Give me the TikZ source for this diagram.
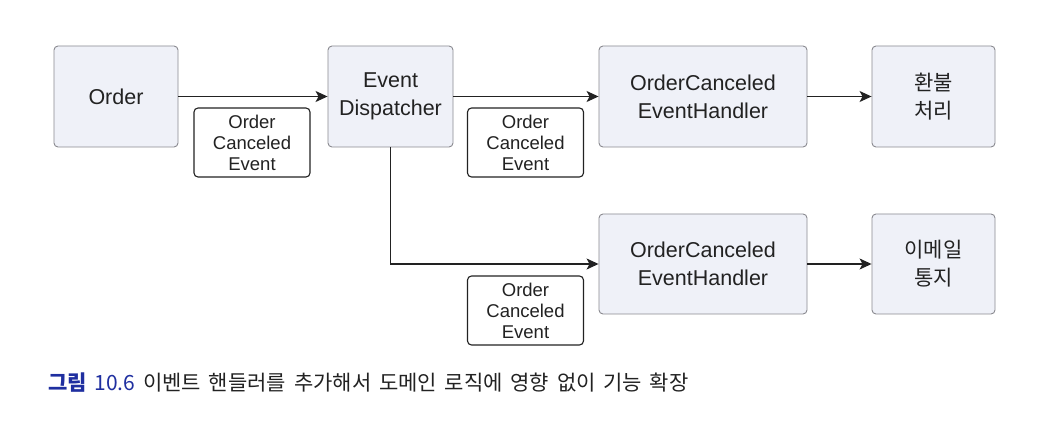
\documentclass[tikz,border=0pt]{standalone}
\usepackage{fontspec}
\setmainfont{Liberation Sans}
\newfontfamily\krfont{Noto Sans CJK KR}
\usetikzlibrary{arrows.meta}
\definecolor{boxfill}{HTML}{EFF1F8}
\definecolor{boxline}{HTML}{8A8A90}
\definecolor{ink}{HTML}{222222}
\definecolor{capblue}{HTML}{1F2FA0}
\begin{document}
\begin{tikzpicture}[x=1pt,y=-1pt,
  comp/.style={draw=boxline, line width=0.9pt, fill=boxfill, rounded corners=4pt,
    minimum height=101pt, align=center, inner sep=0pt, text=ink,
    font=\fontsize{21.5}{28}\selectfont},
  krcomp/.style={comp, font=\krfont\fontsize{21}{28}\selectfont},
  evt/.style={draw=ink, line width=1.1pt, fill=white, rounded corners=4pt,
    minimum width=116pt, minimum height=69pt, align=center, inner sep=0pt, text=ink,
    font=\fontsize{18.5}{21}\selectfont},
  arr/.style={draw=ink, line width=1.3pt, -{Stealth[length=12pt,width=11pt,inset=3pt]}}
]
\useasboundingbox[fill=white] (0,0) rectangle (1050,430);

\node[comp, minimum width=124pt] (order) at (116,96.5) {Order};
\node[comp, minimum width=125pt] (disp) at (390.5,96.5) {Event\\Dispatcher};
\node[comp, minimum width=208pt] (h1) at (703,96.5) {OrderCanceled\\EventHandler};
\node[krcomp, minimum width=123pt] (r1) at (933.5,96.5) {환불\\처리};
\node[comp, minimum width=208pt, minimum height=100pt] (h2) at (703,264) {OrderCanceled\\EventHandler};
\node[krcomp, minimum width=123pt, minimum height=100pt] (r2) at (933.5,264) {이메일\\통지};

\draw[arr] (order) -- (disp);
\draw[arr] (disp) -- (h1);
\draw[arr] (h1) -- (r1);
\draw[arr] (disp.south) |- (h2.west);
\draw[arr] (h2) -- (r2);

\node[evt] (e1) at (252,142.5) {Order\\Canceled\\Event};
\node[evt] (e2) at (525.5,142.5) {Order\\Canceled\\Event};
\node[evt] (e3) at (525.5,310.5) {Order\\Canceled\\Event};

\node[anchor=base west, inner sep=0pt, font=\krfont\fontsize{21}{25}\selectfont, text=ink] (cap) at (48,391)
  {\spaceskip=7.8pt\relax{\color{capblue}\bfseries 그림 \mdseries 10.6} 이벤트 핸들러를 추가해서 도메인 로직에 영향 없이 기능 확장};
\end{tikzpicture}
\end{document}
